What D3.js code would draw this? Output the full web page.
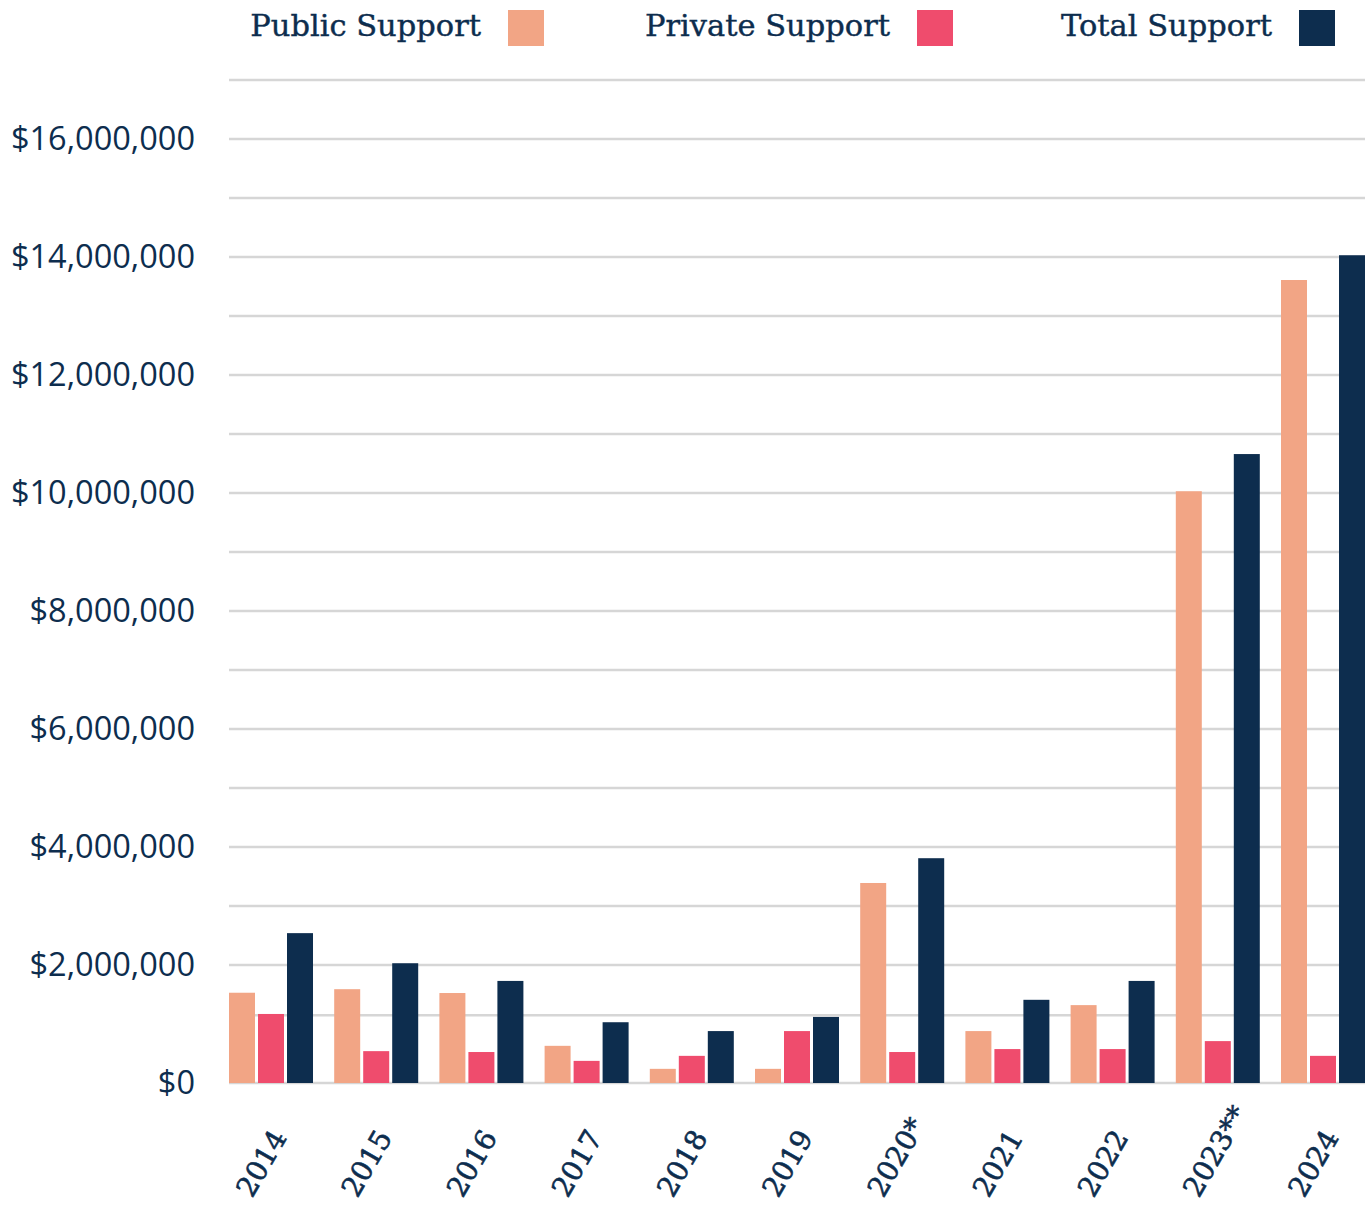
<!DOCTYPE html>
<html>
<head>
<meta charset="utf-8">
<script src="https://cdn.jsdelivr.net/npm/d3@7"></script>
<style>
  html, body { margin: 0; padding: 0; background: #fff; }
  svg { display: block; }
</style>
</head>
<body>
<svg id="chart" width="1372" height="1207"></svg>
<script>
// ---- data ----
const years = ["2014","2015","2016","2017","2018","2019","2020*","2021","2022","2023**","2024"];
const publicSupport  = [1530000, 1590000, 1525000, 630000, 240000, 240000, 3390000, 880000, 1320000, 10030000, 13610000];
const privateSupport = [1170000, 540000, 525000, 375000, 460000, 880000, 525000, 575000, 575000, 710000, 460000];
const totalSupport   = [2540000, 2030000, 1730000, 1030000, 880000, 1120000, 3810000, 1410000, 1730000, 10660000, 14030000];
const seriesNames = ["Public Support", "Private Support", "Total Support"];
const seriesColors = ["#f2a585", "#ef4c6d", "#0d2d4e"];
const yTickValues = [0, 2000000, 4000000, 6000000, 8000000, 10000000, 12000000, 14000000, 16000000];
const gridValues = [0, 1150000, 2000000, 3000000, 4000000, 5000000, 6000000, 7000000, 8000000, 9000000,
                    10000000, 11000000, 12000000, 13000000, 14000000, 15000000, 16000000, 17000000];

const seriesValues = [publicSupport, privateSupport, totalSupport];
const rows = years.map((y, i) => ({ year: y, values: seriesValues.map(s => s[i]) }));

// ---- layout ----
const svg = d3.select("#chart");
const plotLeft = 229, plotRight = 1365, plotTop = 80, plotBottom = 1083;
const textColor = "#0d2d4e";

const x0 = d3.scaleBand().domain(years).range([plotLeft, plotRight]).paddingInner(0.2015).paddingOuter(0);
const x1 = d3.scaleBand().domain(seriesNames).range([0, x0.bandwidth()]).paddingInner(0.1035).paddingOuter(0);
const y = d3.scaleLinear().domain([0, 17000000]).range([plotBottom, plotTop]);

// grid
svg.append("g").selectAll("line").data(gridValues).join("line")
  .attr("x1", plotLeft).attr("x2", plotRight)
  .attr("y1", d => y(d)).attr("y2", d => y(d))
  .attr("stroke", "#d6d6d6").attr("stroke-width", 2.5);

// y axis labels
const fmt = d3.format("$,.0f");
const yAxis = d3.axisLeft(y).tickValues(yTickValues).tickFormat(fmt).tickSize(0).tickPadding(0);
const gy = svg.append("g").attr("transform", `translate(195,0)`).call(yAxis);
gy.select(".domain").remove();
gy.selectAll("text")
  .attr("font-family", "'Open Sans', 'Noto Sans', sans-serif")
  .attr("font-size", 32.5).attr("font-weight", 500).attr("fill", textColor);

// bars
const groups = svg.append("g").selectAll("g").data(rows).join("g")
  .attr("transform", d => `translate(${x0(d.year)},0)`);
groups.selectAll("rect").data(d => d.values.map((v, i) => ({ name: seriesNames[i], v, i })))
  .join("rect")
  .attr("x", d => x1(d.name))
  .attr("width", x1.bandwidth())
  .attr("y", d => y(d.v))
  .attr("height", d => y(0) - y(d.v))
  .attr("fill", d => seriesColors[d.i]);

// x axis labels
const xAxis = d3.axisBottom(x0).tickSize(0).tickPadding(0);
const gx = svg.append("g").attr("transform", `translate(0,${plotBottom})`).call(xAxis);
gx.select(".domain").remove();
gx.selectAll("text")
  .attr("font-family", "'DejaVu Serif', serif")
  .attr("font-size", 28).attr("fill", textColor)
  .attr("stroke", textColor).attr("stroke-width", 0.6)
  .attr("text-anchor", "start")
  .attr("dy", null).attr("y", null)
  .attr("transform", "translate(-19,116) rotate(-60)");

// legend
const legendSwatchX = [508, 917, 1299];
const legend = svg.append("g").selectAll("g").data(seriesNames).join("g")
  .attr("transform", (d, i) => `translate(${legendSwatchX[i]},10)`);
legend.append("rect").attr("width", 36).attr("height", 36).attr("fill", (d, i) => seriesColors[i]);
legend.append("text").attr("x", -27).attr("y", 26)
  .attr("text-anchor", "end")
  .attr("font-family", "'DejaVu Serif', serif")
  .attr("font-size", 30.5).attr("fill", textColor)
  .attr("stroke", textColor).attr("stroke-width", 0.4)
  .text(d => d);
</script>
</body>
</html>
